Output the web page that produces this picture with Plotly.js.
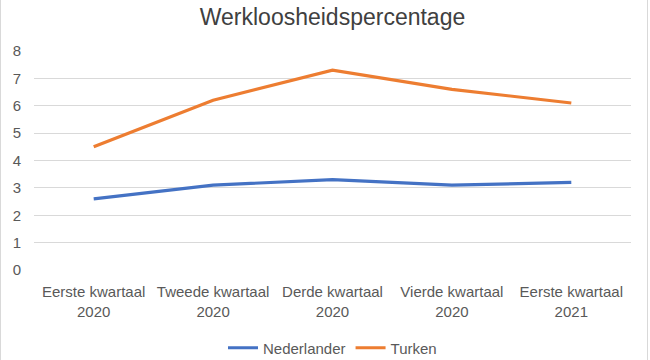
<!DOCTYPE html>
<html>
<head>
<meta charset="utf-8">
<script src="https://cdn.plot.ly/plotly-3.0.1.min.js"></script>
<style>html,body{margin:0;padding:0;background:#fff;}#chart{width:650px;height:360px;}</style>
</head>
<body>
<div id="chart"></div>
<script>
const categories = ["Eerste kwartaal<br>2020", "Tweede kwartaal<br>2020", "Derde kwartaal<br>2020", "Vierde kwartaal<br>2020", "Eerste kwartaal<br>2021"];
const nederlander = [2.6, 3.1, 3.3, 3.1, 3.2];
const turken = [4.5, 6.2, 7.3, 6.6, 6.1];
const yTicks = [0, 1, 2, 3, 4, 5, 6, 7, 8];

const W = 650, H = 360, L = 34, R = 19, T = 51, B = 90;
const pw = W - L - R, ph = H - T - B;
const px = v => (v - L) / pw;
const py = v => (H - B - v) / ph;

const traces = [
  {x: categories, y: nederlander, name: "Nederlander", type: "scatter", mode: "lines",
   line: {color: "#4472C4", width: 3.2}},
  {x: categories, y: turken, name: "Turken", type: "scatter", mode: "lines",
   line: {color: "#ED7D31", width: 3.2}}
];

const layout = {
  width: W, height: H,
  margin: {l: L, r: R, t: T, b: B, pad: 0},
  paper_bgcolor: "#ffffff", plot_bgcolor: "#ffffff",
  font: {family: "Liberation Sans, Arial, sans-serif", size: 15, color: "#595959"},
  title: {text: "Werkloosheidspercentage", font: {size: 23, color: "#404040"},
          x: 0.5, xanchor: "center", xref: "paper", y: 1 - 17 / H, yanchor: "middle", yref: "container"},
  xaxis: {type: "category", showgrid: false, zeroline: false, showline: false, ticks: "",
          range: [-0.5, 4.5], fixedrange: true, automargin: false, ticklabelstandoff: 11,
          tickfont: {size: 15, color: "#595959"}},
  yaxis: {range: [0, 8], tickvals: yTicks, ticktext: yTicks.map(String), showgrid: true,
          gridcolor: "#d9d9d9", gridwidth: 1, zeroline: false, showline: false, ticks: "",
          automargin: false, ticklabelstandoff: 12, tickfont: {size: 15, color: "#595959"}, fixedrange: true},
  showlegend: true,
  legend: {orientation: "h", x: 0.5, xanchor: "center", xref: "paper",
           y: 1 - 348 / H, yanchor: "middle", yref: "container",
           font: {size: 15, color: "#595959"}, itemwidth: 30, traceorder: "normal"},
  shapes: [
    {type: "line", xref: "paper", yref: "paper", x0: px(0.5), x1: px(0.5), y0: py(0), y1: py(360),
     line: {color: "#d9d9d9", width: 1}},
    {type: "line", xref: "paper", yref: "paper", x0: px(647.5), x1: px(647.5), y0: py(0), y1: py(360),
     line: {color: "#d9d9d9", width: 1}}
  ]
};

Plotly.newPlot("chart", traces, layout, {displayModeBar: false, staticPlot: true});
</script>
</body>
</html>
